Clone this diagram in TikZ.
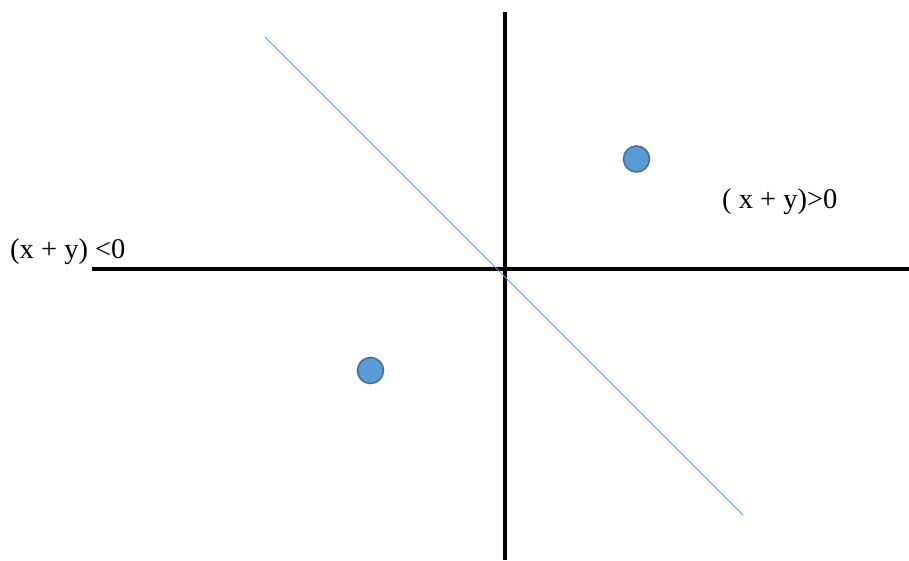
\documentclass[tikz,border=0pt]{standalone}
\usepackage{fontspec}
\setmainfont{Liberation Serif}
\definecolor{dotfill}{HTML}{5B9BD5}
\definecolor{dotedge}{HTML}{41719C}
\definecolor{linecol}{HTML}{5B9BD5}
\begin{document}
\begin{tikzpicture}[x=1pt,y=-1pt,
  axis/.style={line width=3.5pt,black},
  sep/.style={line width=1pt,linecol},
  dot/.style={circle,fill=dotfill,draw=dotedge,line width=1.6pt,minimum size=26pt,inner sep=0pt},
  lbl/.style={font=\fontsize{28.5}{32}\selectfont,inner sep=0pt,anchor=base west}]
\useasboundingbox (0,0) rectangle (909,560);
\coordinate (vt) at (505,12);
\coordinate (vb) at (505,560);
\coordinate (hl) at (92,269);
\coordinate (hr) at (909,269);
\coordinate (s1) at (265,37);
\coordinate (s2) at (743,515);
\draw[axis] (vt) -- (vb);
\draw[axis] (hl) -- (hr);
\draw[sep] (s1) -- (s2);
\node[dot] (p1) at (636.5,159) {};
\node[dot] (p2) at (370.5,370.5) {};
\node[lbl] (l1) at (10,258) {(x + y) <0};
\node[lbl] (l2) at (722,208) {( x + y)>0};
\end{tikzpicture}
\end{document}
